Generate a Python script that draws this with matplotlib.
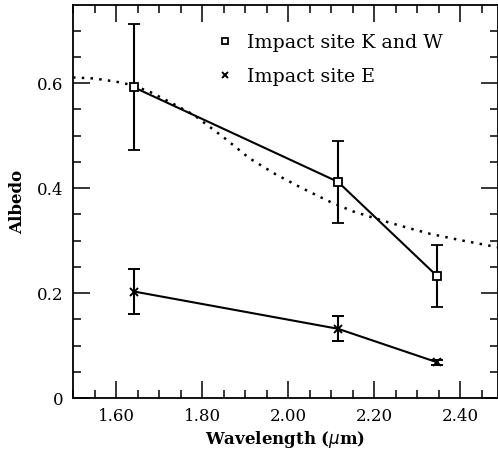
import matplotlib
matplotlib.use('Agg')
import matplotlib.pyplot as plt
from matplotlib.ticker import MultipleLocator, FormatStrFormatter, FuncFormatter

# measured albedo, impact sites K and W
wl_kw = [1.642, 2.116, 2.347]
alb_kw = [0.592, 0.412, 0.232]
lo_kw = [0.472, 0.333, 0.173]
hi_kw = [0.713, 0.490, 0.292]

# impact site E
wl_e = [1.642, 2.116, 2.347]
alb_e = [0.203, 0.132, 0.068]
lo_e = [0.160, 0.108, 0.063]
hi_e = [0.245, 0.156, 0.073]

# dotted model curve
wl_mod = [1.50, 1.55, 1.60, 1.64, 1.68, 1.73, 1.78, 1.85, 1.91, 1.97, 2.03,
          2.10, 2.15, 2.22, 2.28, 2.33, 2.40, 2.49]
alb_mod = [0.611, 0.609, 0.603, 0.596, 0.583, 0.562, 0.540, 0.497, 0.457,
           0.427, 0.401, 0.373, 0.356, 0.338, 0.324, 0.313, 0.301, 0.287]

fig = plt.figure(figsize=(4.98, 4.57), dpi=100)
ax = fig.add_axes([0.1466, 0.129, 0.8534, 0.860])

ax.plot(wl_mod, alb_mod, color='black', lw=1.8, ls=(0, (1.0, 2.5)))

err_kw = [[a - l for a, l in zip(alb_kw, lo_kw)], [h - a for a, h in zip(alb_kw, hi_kw)]]
err_e = [[a - l for a, l in zip(alb_e, lo_e)], [h - a for a, h in zip(alb_e, hi_e)]]

ax.errorbar(wl_kw, alb_kw, yerr=err_kw, color='black', lw=1.5, capsize=4,
            capthick=1.4, marker='s', ms=6, mfc='white', mec='black', mew=1.3,
            label='Impact site K and W')
ax.errorbar(wl_e, alb_e, yerr=err_e, color='black', lw=1.5, capsize=4,
            capthick=1.4, marker='x', ms=6, mew=1.4,
            label='Impact site E')

ax.set_xlim(1.5, 2.488)
ax.set_ylim(0, 0.749)

ax.xaxis.set_major_locator(MultipleLocator(0.2))
ax.xaxis.set_minor_locator(MultipleLocator(0.05))
ax.yaxis.set_major_locator(MultipleLocator(0.2))
ax.yaxis.set_minor_locator(MultipleLocator(0.05))
ax.xaxis.set_major_formatter(FormatStrFormatter('%.2f'))
ax.yaxis.set_major_formatter(FuncFormatter(lambda v, p: '0' if abs(v) < 1e-9 else '%.1f' % v))
ax.tick_params(which='both', direction='in', top=True, right=True, width=1.1)
ax.tick_params(which='major', length=12, labelsize=12, pad=7)
ax.tick_params(which='minor', length=6)
for lab in ax.get_xticklabels() + ax.get_yticklabels():
    lab.set_family('DejaVu Serif')
for s in ax.spines.values():
    s.set_linewidth(1.3)

ax.set_xlabel(r'Wavelength ($\mu$m)', fontsize=12, fontweight='bold',
              family='DejaVu Serif', labelpad=3)
ax.set_ylabel('Albedo', fontsize=12, fontweight='bold', family='DejaVu Serif',
              labelpad=8)

handles, labels = ax.get_legend_handles_labels()
hs = [h[0] for h in handles]
leg = ax.legend(hs, labels, loc='upper left', bbox_to_anchor=(0.358, 0.927),
                frameon=False, handlelength=0, handletextpad=1.15, labelspacing=0.85,
                borderpad=0, borderaxespad=0, markerscale=0.8,
                prop={'family': 'DejaVu Serif', 'size': 13.7})

fig.savefig('out.png', dpi=100)
